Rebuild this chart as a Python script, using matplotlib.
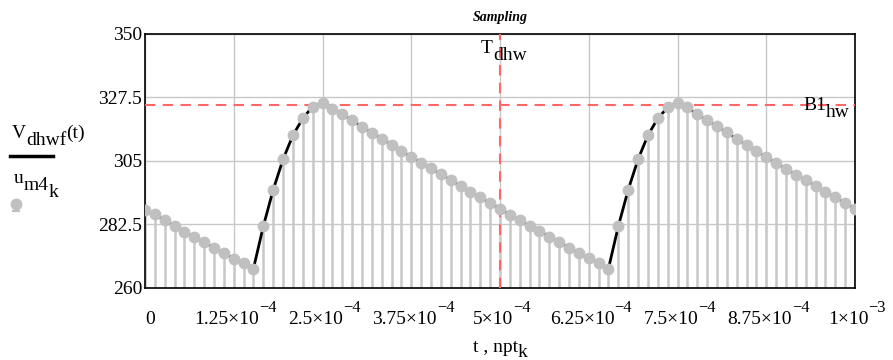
import matplotlib.pyplot as plt
from matplotlib.lines import Line2D
from matplotlib.ticker import FixedLocator, FixedFormatter

plt.rcParams['font.family'] = ['Liberation Serif', 'DejaVu Serif']

n_steps = 72
t_end = 1e-3
u_m4 = [287.8, 286.1, 284.0, 282.0, 279.9, 278.0, 276.2, 274.3, 272.4, 270.4,
        268.8, 266.9, 281.9, 294.8, 305.6, 314.1, 320.1, 324.3, 325.6, 323.6,
        321.5, 319.4, 317.1, 315.0, 312.9, 310.8, 308.5, 306.5, 304.4, 302.4,
        300.3, 298.2, 296.1, 294.1, 292.1, 290.1, 288.1, 286.0, 284.0, 282.0,
        280.2, 278.2, 276.2, 274.3, 272.4, 270.5, 268.8, 266.9, 281.9, 294.8,
        305.6, 314.1, 320.1, 324.0, 325.6, 324.0, 321.5, 319.4, 317.3, 315.1,
        312.9, 310.6, 308.5, 306.4, 304.3, 302.2, 300.1, 298.2, 296.2, 294.1,
        292.1, 290.1, 288.1]
npt = [k * t_end / n_steps for k in range(n_steps + 1)]

B1_hw = 325.0
T_dhw = 5e-4

x_ticks = [0, 1.25e-4, 2.5e-4, 3.75e-4, 5e-4, 6.25e-4, 7.5e-4, 8.75e-4, 1e-3]
x_mant = ['0', '1.25', '2.5', '3.75', '5', '6.25', '7.5', '8.75', '1']
x_exp = ['', '\u22124', '\u22124', '\u22124', '\u22124', '\u22124', '\u22124',
         '\u22124', '\u22123']
y_ticks = [260, 282.5, 305, 327.5, 350]
y_labels = ['260', '282.5', '305', '327.5', '350']

W, H = 893, 360
fig = plt.figure(figsize=(W / 100, H / 100), dpi=100)
ax = fig.add_axes([145 / W, 1 - 288 / H, 710 / W, 254 / H])
renderer = fig.canvas.get_renderer()


def rich(x, y, parts, ha='left', size=14, **kw):
    # parts: (text, drop in px, size factor); x, y in px from top-left, y = baseline
    arts = []
    total = 0
    for s, dy, sc in parts:
        t = fig.text(0, 0, s, fontsize=size * sc, va='baseline', ha='left', **kw)
        w = t.get_window_extent(renderer).width
        arts.append((t, dy, w))
        total += w
    x0 = {'left': x, 'center': x - total / 2, 'right': x - total}[ha]
    for t, dy, w in arts:
        t.set_position((x0 / W, 1 - (y + dy) / H))
        x0 += w


ax.set_xlim(0, t_end)
ax.set_ylim(260, 350)
ax.xaxis.set_major_locator(FixedLocator(x_ticks))
ax.yaxis.set_major_locator(FixedLocator(y_ticks))
ax.yaxis.set_major_formatter(FixedFormatter(y_labels))
ax.tick_params(length=0, labelsize=14, pad=2, labelbottom=False)
ax.grid(True, color='#c8c8c8', lw=1)
ax.set_axisbelow(True)
for s in ax.spines.values():
    s.set_color('black')
    s.set_linewidth(1.2)

# stems, continuous curve, sample dots
ax.vlines(npt, 260, u_m4, color='#c8c8c8', lw=1.8, zorder=2)
ax.axhline(B1_hw, color='#ff6666', ls=(0, (5, 3.5)), lw=1.5, zorder=3)
ax.axvline(T_dhw, color='#ff6666', ls=(0, (5, 3.5)), lw=1.5, zorder=3)
ax.plot(npt, u_m4, color='black', lw=2, zorder=4)
ax.plot(npt, u_m4, 'o', color='#c0c0c0', ms=7.5, zorder=5)

# x tick labels with full-size raised exponents
for tv, m, e in zip(x_ticks, x_mant, x_exp):
    px = 145 + tv / t_end * 710
    if e:
        rich(px + 2, 324, [(m + '\u00d710', 0, 1), (e, -12, 0.85)], ha='center')
    else:
        rich(px + 5, 324, [(m, 0, 1)], ha='center')

rich(850, 110, [('B1', 0, 1), ('hw', 7, 1)], ha='right')
rich(481, 53, [('T', 0, 1), ('dhw', 7, 1)])

fig.text(500 / W, 1 - 17 / H, 'Sampling', ha='center', va='center',
         fontsize=10, fontweight='bold', fontstyle='italic')
rich(500, 352, [('t , npt', 0, 1), ('k', 5, 1)], ha='center')

# y-axis legend-style label
rich(12, 138, [('V', 0, 1), ('dhwf', 7, 1), ('(t)', 0, 1)])
fig.add_artist(Line2D([10 / W, 53 / W], [1 - 156 / H, 1 - 156 / H],
                      color='black', lw=2.5))
rich(14, 183, [('u', 0, 1), ('m4', 7, 1), ('k', 14, 1)])
fig.add_artist(Line2D([16 / W, 16 / W], [1 - 205 / H, 1 - 211 / H],
                      color='#c0c0c0', lw=1.5))
fig.add_artist(Line2D([13 / W, 19 / W], [1 - 211 / H, 1 - 211 / H],
                      color='#c0c0c0', lw=1.5))
fig.add_artist(Line2D([16 / W], [1 - 204 / H], marker='o', color='#c0c0c0',
                      ms=7.5))

fig.savefig('out.png', dpi=100)
